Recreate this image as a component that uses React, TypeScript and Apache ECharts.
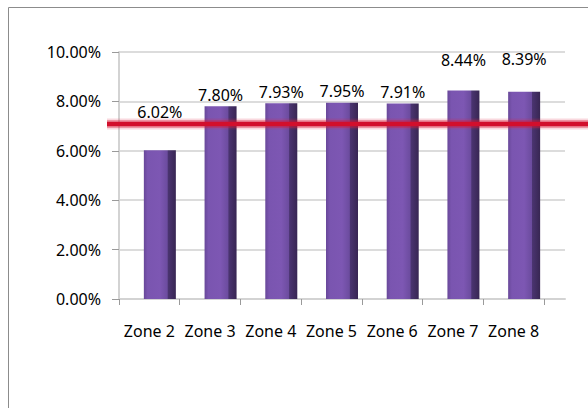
import React, { useEffect, useRef } from "react";
import * as echarts from "echarts";

// Zone categories and their rates (percent)
const categories = ["Zone 2", "Zone 3", "Zone 4", "Zone 5", "Zone 6", "Zone 7", "Zone 8"];
const rates = [6.02, 7.8, 7.93, 7.95, 7.91, 8.44, 8.39];

// Value axis range and step (percent)
const yMin = 0;
const yMax = 10;
const yStep = 2;

// Reference level drawn as the red bar across the chart (percent)
const target = 7.08;

// Extra lift (px) for each value label above its column
const labelRaise = [27, 0, 0, 1, 1, 20, 22];

const FONT = "'Noto Sans', 'Open Sans', sans-serif";

export default function App() {
  const ref = useRef<HTMLDivElement>(null);

  useEffect(() => {
    if (!ref.current) return;
    const chart = echarts.init(ref.current, null, { renderer: "svg" });

    const top = 52;
    const bottom = 109;

    const option: any = {
      animation: false,
      backgroundColor: "#ffffff",
      grid: [
        // back wall with the gridlines
        { left: 119, right: 23, top, bottom },
        // category axis
        { left: 119, right: 44, top, bottom },
        // columns, set slightly right for the depth effect
        { left: 129.5, right: 33.5, top, bottom },
      ],
      xAxis: [
        {
          gridIndex: 0,
          type: "value",
          min: 0,
          max: 1,
          axisLine: { show: true, lineStyle: { color: "#d3d3d3", width: 2 } },
          axisTick: { show: false },
          axisLabel: { show: false },
          splitLine: { show: false },
        },
        {
          gridIndex: 1,
          type: "category",
          data: categories,
          boundaryGap: true,
          axisLine: { show: false },
          axisTick: { show: true, length: 6, lineStyle: { color: "#9a9a9a", width: 1 } },
          axisLabel: {
            margin: 24,
            fontSize: 16,
            fontFamily: FONT,
            color: "#000000",
            interval: 0,
          },
        },
        {
          gridIndex: 2,
          type: "category",
          data: categories,
          show: false,
        },
      ],
      yAxis: [
        {
          gridIndex: 0,
          type: "value",
          min: yMin,
          max: yMax,
          interval: yStep,
          axisLine: { show: true, lineStyle: { color: "#d3d3d3", width: 2 } },
          axisTick: { show: true, length: 7, lineStyle: { color: "#9a9a9a", width: 1 } },
          axisLabel: {
            margin: 18,
            fontSize: 16,
            fontFamily: FONT,
            color: "#000000",
            formatter: (v: number) => v.toFixed(2) + "%",
          },
          splitLine: { show: true, lineStyle: { color: "#d0d0d0", width: 1.5 } },
        },
        { gridIndex: 1, type: "value", min: yMin, max: yMax, show: false, splitLine: { show: false } },
        { gridIndex: 2, type: "value", min: yMin, max: yMax, show: false, splitLine: { show: false } },
      ],
      series: [
        {
          type: "bar",
          xAxisIndex: 2,
          yAxisIndex: 2,
          barWidth: 32,
          data: rates.map((v, i) => ({
            value: v,
            label: { offset: [0, -labelRaise[i]] },
          })),
          itemStyle: {
            color: new echarts.graphic.LinearGradient(0, 0, 1, 0, [
              { offset: 0, color: "#684899" },
              { offset: 0.12, color: "#7a55b0" },
              { offset: 0.5, color: "#7d57b3" },
              { offset: 0.73, color: "#6c4c9f" },
              { offset: 0.76, color: "#4a3470" },
              { offset: 1, color: "#382653" },
            ]),
          },
          label: {
            show: true,
            position: "top",
            distance: 3,
            fontSize: 16,
            fontFamily: FONT,
            color: "#000000",
            formatter: (p: any) => Number(p.value).toFixed(2) + "%",
          },
        },
      ],
    };

    chart.setOption(option);

    let y = chart.convertToPixel({ yAxisIndex: 0 }, target) as any;
    if (Array.isArray(y)) y = y[1];
    if (!isFinite(y)) {
      const h = 408 - top - bottom;
      y = top + h * (1 - (target - yMin) / (yMax - yMin));
    }

    // red reference bar: soft glow layers under a solid core
    const glow = (w: number, color: string, z: number) => ({
      type: "line",
      z,
      silent: true,
      shape: { x1: 107, y1: y, x2: 600, y2: y },
      style: { stroke: color, lineWidth: w },
    });

    chart.setOption({
      graphic: [
        {
          type: "rect",
          z: -10,
          silent: true,
          shape: { x: 8.5, y: 7.5, width: 620, height: 440 },
          style: { fill: "none", stroke: "#8c8c8c", lineWidth: 1 },
        },
        glow(11, "rgba(220, 40, 70, 0.18)", 100),
        glow(8, "rgba(215, 25, 55, 0.35)", 101),
        glow(4.5, "#d20f2c", 102),
      ],
    });

    return () => chart.dispose();
  }, []);

  return (
    <div
      ref={ref}
      style={{ position: "fixed", left: 0, top: 0, width: 588, height: 408 }}
    />
  );
}
